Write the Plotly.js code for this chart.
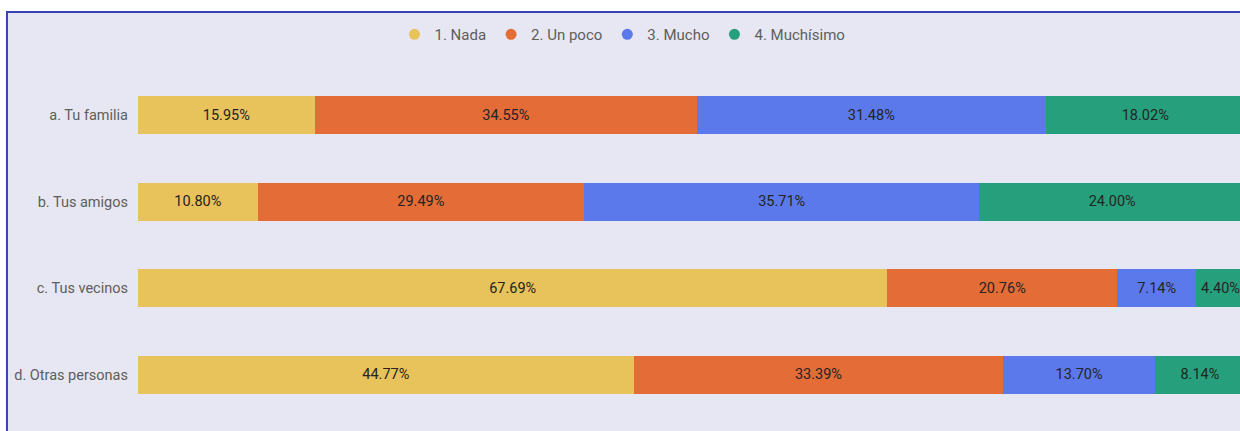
<!DOCTYPE html>
<html>
<head>
<meta charset="utf-8">
<script src="https://cdn.plot.ly/plotly-3.0.1.min.js"></script>
<style>
  html, body { margin: 0; padding: 0; background: #ffffff; overflow: hidden; }
  #chart { position: absolute; left: 0; top: 0; width: 1240px; height: 431px; overflow: hidden; }
</style>
</head>
<body>
<div id="chart"></div>
<script>
const categories = ["a. Tu familia", "b. Tus amigos", "c. Tus vecinos", "d. Otras personas"];
const seriesNames = ["1. Nada", "2. Un poco", "3. Mucho", "4. Muchísimo"];
const nada = [15.95, 10.80, 67.69, 44.77];
const unPoco = [34.55, 29.49, 20.76, 33.39];
const mucho = [31.48, 35.71, 7.14, 13.70];
const muchisimo = [18.02, 24.00, 4.40, 8.14];
const colors = ["#e8c25a", "#e46c37", "#5b79ea", "#26a07c"];

const values = [nada, unPoco, mucho, muchisimo];
const font = "Roboto, 'DejaVu Sans', sans-serif";

const traces = [];
values.forEach((vals, i) => {
  traces.push({
    type: "bar", orientation: "h", name: seriesNames[i],
    x: vals, y: categories, width: 0.44,
    marker: { color: colors[i], line: { width: 0 } },
    texttemplate: "%{x:.2f}%", textposition: "inside", insidetextanchor: "middle",
    textfont: { color: "#252423", size: 14.5, family: font },
    constraintext: "none", showlegend: false, hoverinfo: "x+name"
  });
});
values.forEach((vals, i) => {
  traces.push({
    type: "scatter", mode: "markers", name: seriesNames[i],
    x: [null], y: [null],
    marker: { color: colors[i], symbol: "circle", size: 11 },
    showlegend: true, hoverinfo: "skip"
  });
});

const layout = {
  width: 1240, height: 431,
  paper_bgcolor: "#ffffff", plot_bgcolor: "rgba(0,0,0,0)",
  margin: { l: 138, r: 0, t: 72, b: 13, pad: 0 },
  barmode: "stack", bargap: 0.56,
  font: { family: font, color: "#605e5c", size: 14 },
  xaxis: { range: [0, 99.55], showgrid: false, zeroline: false, showticklabels: false, showline: false, fixedrange: true },
  yaxis: { type: "category", categoryorder: "array", categoryarray: categories, autorange: "reversed",
           showgrid: false, zeroline: false, showline: false, ticks: "", ticklabelstandoff: 9,
           tickfont: { family: font, size: 14.5, color: "#605e5c" } },
  legend: { orientation: "h", xref: "container", x: 0.502, xanchor: "center", yref: "container", y: 0.958, yanchor: "top",
            font: { family: font, size: 15, color: "#605e5c" }, bgcolor: "rgba(0,0,0,0)",
            itemwidth: 30, tracegroupgap: 0, traceorder: "normal" },
  shapes: [{
    type: "rect", xref: "paper", yref: "paper", layer: "below",
    x0: -0.1189, x1: 1.2, y0: -0.2, y1: 1.1734,
    fillcolor: "#e6e7f2", line: { color: "#3a41b2", width: 2 }
  }],
  showlegend: true
};

Plotly.newPlot("chart", traces, layout, { displayModeBar: false, staticPlot: true });
</script>
</body>
</html>
